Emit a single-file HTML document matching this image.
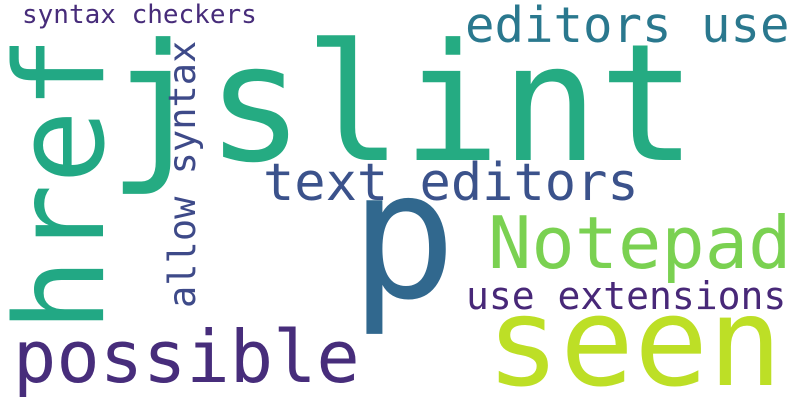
<!DOCTYPE html>
<html><head><meta charset="utf-8"><style>
html,body{margin:0;padding:0;background:#fff}
svg{display:block}
text{font-family:"DejaVu Sans Mono","Liberation Mono",monospace}
</style></head><body>
<svg width="800" height="400" viewBox="0 0 800 400">
<rect width="800" height="400" fill="#fff"/>
<text x="22" y="23" font-size="26" fill="#472c7a">syntax checkers</text>
<text x="108" y="160" font-size="163" fill="#25ab82">jslint</text>
<text x="465" y="42" font-size="49" fill="#2a788e">editors use</text>
<text transform="translate(103,332) rotate(-90)" font-size="123" fill="#22a884">href</text>
<text transform="translate(195,308) rotate(-90)" font-size="37" fill="#3e4a89">allow syntax</text>
<text x="263" y="200" font-size="52" fill="#3b528b">text editors</text>
<text x="350" y="297" font-size="177" fill="#31688e">p</text>
<text x="488" y="268" font-size="72" fill="#7ad151">Notepad</text>
<text x="466" y="309" font-size="38" fill="#482878">use extensions</text>
<text x="13" y="382" font-size="72" fill="#472d7b">possible</text>
<text x="486" y="385" font-size="123" fill="#bddf26">seen</text>
</svg>
</body></html>
